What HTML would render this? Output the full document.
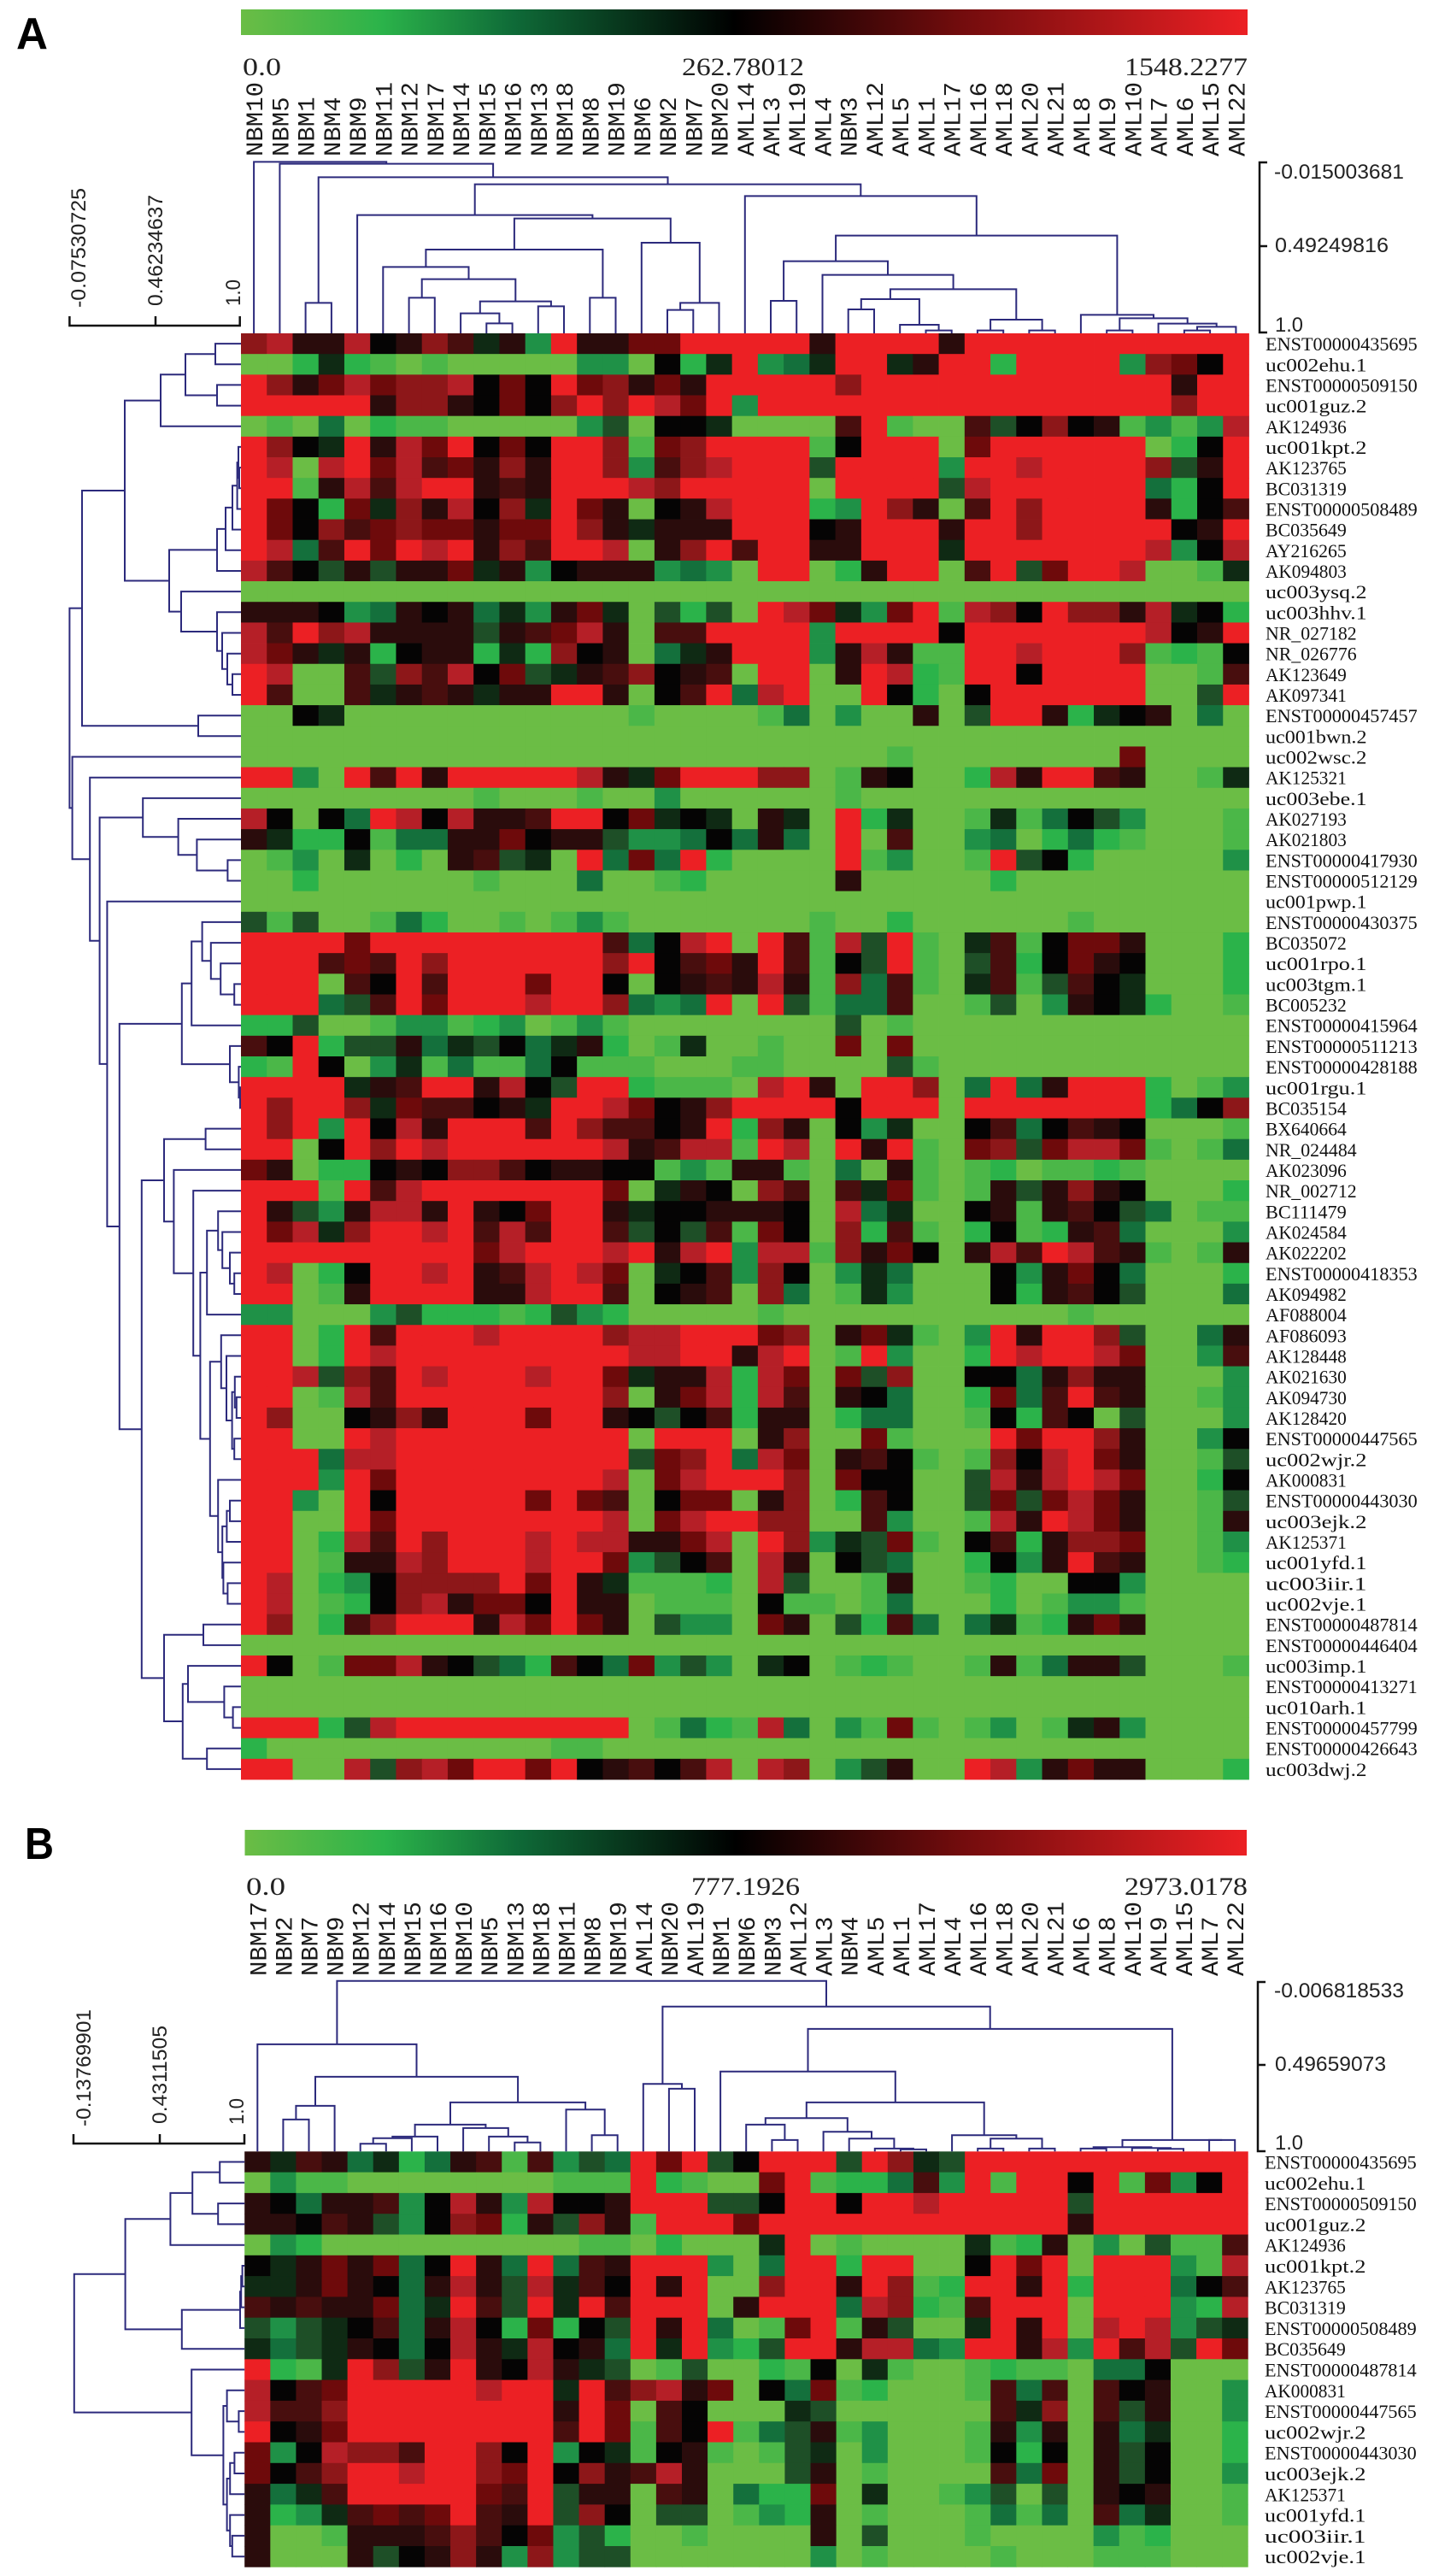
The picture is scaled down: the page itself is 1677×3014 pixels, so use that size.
<!DOCTYPE html>
<html lang="en">
<head>
<meta charset="utf-8">
<title>Hierarchical clustering heatmaps</title>
<style>
html,body{margin:0;padding:0;background:#fff;}
svg{display:block;}
.lab{font-family:"Liberation Mono",monospace;font-size:28px;fill:#1a1a1a;}
.gene{font-family:"Liberation Serif",serif;font-size:22px;fill:#111;}
.num{font-family:"Liberation Serif",serif;font-size:30px;fill:#222;}
.sc{font-family:"Liberation Sans",sans-serif;font-size:24px;fill:#222;}
.tag{font-family:"Liberation Sans",sans-serif;font-size:52px;font-weight:bold;fill:#000;}
.axis{fill:none;stroke:#111;stroke-width:2.5;}
</style>
</head>
<body>
<svg id="figure" xmlns="http://www.w3.org/2000/svg" width="1677" height="3014" viewBox="0 0 1677 3014">
<defs>
<linearGradient id="scaleGrad" x1="0" x2="1" y1="0" y2="0">
<stop offset="0" stop-color="#6bbd45"/>
<stop offset="0.14" stop-color="#2bb34a"/>
<stop offset="0.27" stop-color="#0f6b38"/>
<stop offset="0.49" stop-color="#000"/>
<stop offset="0.714" stop-color="#720c0d"/>
<stop offset="1" stop-color="#ec2024"/>
</linearGradient>
</defs>
<rect width="1677" height="3014" fill="#fff"/>

<text class="tag" x="19" y="57" textLength="37" lengthAdjust="spacingAndGlyphs">A</text>
<rect x="282" y="11" width="1178" height="30" fill="url(#scaleGrad)"/>
<text class="num" x="284" y="88" textLength="45" lengthAdjust="spacingAndGlyphs">0.0</text>
<text class="num" x="798" y="88" textLength="143" lengthAdjust="spacingAndGlyphs">262.78012</text>
<text class="num" x="1316" y="88" textLength="144" lengthAdjust="spacingAndGlyphs">1548.2277</text>
<path class="axis" d="M81.4 370V381H280.7V370M182 381V370"/>
<text class="sc" transform="translate(100 360) rotate(-90)" textLength="140" lengthAdjust="spacingAndGlyphs">-0.07530725</text>
<text class="sc" transform="translate(190 358) rotate(-90)" textLength="130" lengthAdjust="spacingAndGlyphs">0.46234637</text>
<text class="sc" transform="translate(281 358) rotate(-90)" textLength="31" lengthAdjust="spacingAndGlyphs">1.0</text>
<path class="axis" d="M1483 190H1474V389H1483M1474 288H1483"/>
<text class="sc" x="1491" y="209" textLength="152" lengthAdjust="spacingAndGlyphs">-0.015003681</text>
<text class="sc" x="1492" y="295" textLength="133" lengthAdjust="spacingAndGlyphs">0.49249816</text>
<text class="sc" x="1492" y="388" textLength="33" lengthAdjust="spacingAndGlyphs">1.0</text>

<text class="tag" x="29" y="2175" textLength="34" lengthAdjust="spacingAndGlyphs">B</text>
<rect x="286.5" y="2141" width="1172.5" height="30" fill="url(#scaleGrad)"/>
<text class="num" x="288" y="2217" textLength="46" lengthAdjust="spacingAndGlyphs">0.0</text>
<text class="num" x="809" y="2217" textLength="127" lengthAdjust="spacingAndGlyphs">777.1926</text>
<text class="num" x="1316" y="2217" textLength="144" lengthAdjust="spacingAndGlyphs">2973.0178</text>
<path class="axis" d="M86 2497V2508H286V2497M187 2508V2497"/>
<text class="sc" transform="translate(106 2488) rotate(-90)" textLength="137" lengthAdjust="spacingAndGlyphs">-0.13769901</text>
<text class="sc" transform="translate(195 2485) rotate(-90)" textLength="115" lengthAdjust="spacingAndGlyphs">0.4311505</text>
<text class="sc" transform="translate(285 2486) rotate(-90)" textLength="31" lengthAdjust="spacingAndGlyphs">1.0</text>
<path class="axis" d="M1481 2319H1472V2517H1481M1472 2416H1481"/>
<text class="sc" x="1491" y="2337" textLength="152" lengthAdjust="spacingAndGlyphs">-0.006818533</text>
<text class="sc" x="1492" y="2423" textLength="130" lengthAdjust="spacingAndGlyphs">0.49659073</text>
<text class="sc" x="1492" y="2515" textLength="33" lengthAdjust="spacingAndGlyphs">1.0</text>
</svg>

<script>
const columnsA = ["NBM10","NBM5","NBM1","NBM4","NBM9","NBM11","NBM12","NBM17","NBM14","NBM15","NBM16","NBM13","NBM18","NBM8","NBM19","NBM6","NBM2","NBM7","NBM20","AML14","AML3","AML19","AML4","NBM3","AML12","AML5","AML1","AML17","AML16","AML18","AML20","AML21","AML8","AML9","AML10","AML7","AML6","AML15","AML22"];
const genesA = ["ENST00000435695","uc002ehu.1","ENST00000509150","uc001guz.2","AK124936","uc001kpt.2","AK123765","BC031319","ENST00000508489","BC035649","AY216265","AK094803","uc003ysq.2","uc003hhv.1","NR_027182","NR_026776","AK123649","AK097341","ENST00000457457","uc001bwn.2","uc002wsc.2","AK125321","uc003ebe.1","AK027193","AK021803","ENST00000417930","ENST00000512129","uc001pwp.1","ENST00000430375","BC035072","uc001rpo.1","uc003tgm.1","BC005232","ENST00000415964","ENST00000511213","ENST00000428188","uc001rgu.1","BC035154","BX640664","NR_024484","AK023096","NR_002712","BC111479","AK024584","AK022202","ENST00000418353","AK094982","AF088004","AF086093","AK128448","AK021630","AK094730","AK128420","ENST00000447565","uc002wjr.2","AK000831","ENST00000443030","uc003ejk.2","AK125371","uc001yfd.1","uc003iir.1","uc002vje.1","ENST00000487814","ENST00000446404","uc003imp.1","ENST00000413271","uc010arh.1","ENST00000457799","ENST00000426643","uc003dwj.2"];
const levelsA = [
[11,12,8,8,12,7,8,11,9,6,8,3,13,8,8,10,10,13,13,13,13,13,8,13,13,13,13,8,13,13,13,13,13,13,13,13,13,13,13],
[0,0,2,6,2,1,0,1,0,0,0,0,0,3,3,0,7,2,6,13,3,4,6,13,13,6,8,13,13,2,13,13,13,13,3,11,10,7,13],
[13,11,8,10,12,10,11,11,12,7,10,7,13,10,11,8,10,8,13,13,13,13,13,11,13,13,13,13,13,13,13,13,13,13,13,13,8,13,13],
[13,13,13,13,13,8,11,11,8,7,10,7,11,13,11,13,12,10,13,3,13,13,13,13,13,13,13,13,13,13,13,13,13,13,13,13,11,13,13],
[0,1,0,4,0,2,1,1,0,0,0,0,0,3,5,0,7,7,6,0,0,0,0,9,13,1,0,0,9,5,7,11,7,8,1,3,1,3,12],
[13,11,7,6,13,8,12,10,13,7,10,7,13,13,11,1,10,11,13,13,13,13,1,7,13,13,13,0,10,13,13,13,13,13,13,0,2,7,13],
[13,12,0,12,13,10,12,9,10,8,11,8,13,13,11,3,9,11,12,13,13,13,5,13,13,13,13,3,13,13,12,13,13,13,13,11,5,8,13],
[13,13,1,8,12,9,12,13,13,8,9,8,13,13,13,12,11,13,13,13,13,13,0,13,13,13,13,5,12,13,13,13,13,13,13,4,2,7,13],
[13,10,7,2,10,6,11,8,12,7,11,6,13,10,8,0,7,8,12,13,13,13,2,3,13,11,8,0,9,13,11,13,13,13,13,8,2,7,9],
[13,10,7,11,9,10,11,10,10,8,10,10,13,11,8,6,8,8,8,13,13,13,7,8,13,13,13,8,13,13,11,13,13,13,13,13,7,8,13],
[13,12,4,9,13,10,13,12,13,8,11,9,13,13,12,0,8,11,13,9,13,13,8,8,13,13,13,6,13,13,13,13,13,13,13,12,3,7,12],
[12,9,7,5,8,5,8,8,10,6,8,3,7,8,8,8,3,4,3,0,13,13,0,2,8,13,13,0,9,13,5,10,13,13,12,0,0,1,6],
[0,0,0,0,0,0,0,0,0,0,0,0,0,0,0,0,0,0,0,0,0,0,0,0,0,0,0,0,0,0,0,0,0,0,0,0,0,0,0],
[8,8,8,7,3,4,8,7,8,4,6,3,8,10,6,0,5,2,5,0,13,12,10,6,3,10,13,1,12,11,7,13,11,11,8,12,6,7,2],
[12,9,13,11,12,8,8,8,8,5,8,9,10,12,8,0,9,9,13,13,13,13,3,13,13,13,13,7,13,13,13,13,13,13,13,12,7,8,13],
[12,10,8,6,8,2,7,8,8,2,6,2,11,7,8,0,4,6,8,13,13,13,3,8,12,8,1,1,13,13,12,13,13,13,11,1,2,1,7],
[13,12,0,0,9,5,11,9,12,7,10,5,6,8,9,11,7,8,9,0,13,13,0,8,13,12,2,1,13,13,7,13,13,13,13,0,0,1,9],
[13,9,0,0,9,6,8,9,8,6,8,8,13,13,8,0,7,9,13,4,12,13,0,0,13,7,2,0,7,13,13,13,13,13,13,0,0,5,13],
[0,0,7,6,0,0,0,0,0,0,0,0,0,0,0,1,0,0,0,0,1,4,0,3,0,0,8,0,5,13,13,8,2,6,7,8,0,4,0],
[0,0,0,0,0,0,0,0,0,0,0,0,0,0,0,0,0,0,0,0,0,0,0,0,0,0,0,0,0,0,0,0,0,0,0,0,0,0,0],
[0,0,0,0,0,0,0,0,0,0,0,0,0,0,0,0,0,0,0,0,0,0,0,0,0,1,0,0,0,0,0,0,0,0,10,0,0,0,0],
[13,13,3,0,13,9,13,8,13,13,13,13,13,12,8,6,10,13,13,13,11,11,0,1,8,7,0,0,2,12,8,13,13,9,8,0,0,1,6],
[0,0,0,0,0,0,0,0,0,1,0,0,0,1,0,0,3,0,0,0,0,0,0,1,0,0,0,0,0,0,0,0,0,0,0,0,0,0,0],
[12,7,0,7,4,13,12,7,12,8,8,9,13,13,7,10,6,7,6,0,8,6,0,13,2,6,0,0,1,6,1,4,7,5,3,0,0,0,1],
[8,6,2,2,7,1,4,4,8,8,10,7,8,8,5,3,3,4,7,4,8,4,0,13,0,9,0,0,3,4,0,2,4,2,1,0,0,0,1],
[0,1,3,0,6,0,2,0,8,9,5,6,0,13,4,10,4,13,2,0,0,0,0,13,1,3,0,0,1,13,5,7,2,0,0,0,0,0,3],
[0,0,2,0,0,0,0,0,0,1,0,0,0,4,0,0,1,2,0,0,0,0,0,8,0,0,0,0,0,2,0,0,0,0,0,0,0,0,0],
[0,0,0,0,0,0,0,0,0,0,0,0,0,0,0,0,0,0,0,0,0,0,0,0,0,0,0,0,0,0,0,0,0,0,0,0,0,0,0],
[5,1,5,0,0,1,4,2,0,0,1,0,1,3,1,0,0,0,0,0,0,0,1,0,0,2,0,0,0,0,0,0,1,0,0,0,0,0,0],
[13,13,13,13,10,13,13,13,13,13,13,13,13,13,9,4,7,12,13,0,13,9,1,12,5,13,1,0,6,9,1,7,10,10,8,0,0,0,2],
[13,13,13,9,10,9,13,11,13,13,13,13,13,13,11,13,7,9,10,8,13,9,1,7,5,13,1,0,5,9,2,7,10,8,7,0,0,0,2],
[13,13,13,0,9,7,13,9,13,13,13,10,13,13,7,0,7,8,9,8,12,8,1,11,4,9,1,0,6,9,1,5,9,7,6,0,0,0,2],
[13,13,13,4,5,9,13,10,13,13,13,12,13,13,11,4,3,4,13,0,13,5,1,4,4,9,0,0,1,5,0,3,8,7,6,2,0,0,1],
[2,2,5,0,0,1,3,3,1,2,3,0,1,3,1,0,0,0,0,0,0,0,0,5,0,1,0,0,0,0,0,0,0,0,0,0,0,0,0],
[9,7,13,2,5,5,8,4,6,5,7,4,6,8,2,0,1,6,0,0,1,0,0,10,0,10,0,0,0,0,0,0,0,0,0,0,0,0,0],
[2,1,13,7,0,3,6,1,4,1,1,4,7,1,1,1,0,0,0,1,1,0,0,0,0,5,1,0,0,0,0,0,0,0,0,0,0,0,0],
[13,13,13,13,6,8,9,13,13,8,12,7,5,13,13,2,1,1,1,0,12,13,8,0,13,13,11,0,4,13,4,8,13,13,13,2,0,1,3],
[13,11,13,13,11,6,10,9,9,7,8,6,13,13,12,10,7,8,11,13,13,13,13,7,13,13,13,0,13,13,13,13,13,13,13,2,4,7,11],
[13,11,13,3,13,7,12,8,13,13,13,9,13,11,9,9,7,8,13,2,11,8,0,7,3,6,0,0,7,9,4,7,9,8,7,0,0,0,1],
[13,13,0,7,13,11,13,12,13,13,13,13,13,13,12,8,9,12,12,1,13,12,0,13,8,13,1,0,10,11,5,10,12,12,10,1,0,1,4],
[10,8,0,2,2,7,8,7,11,11,9,7,8,8,7,7,1,3,1,8,8,1,0,4,0,8,1,0,1,2,0,1,1,2,1,0,0,0,0],
[13,13,13,1,13,9,12,13,13,13,13,13,13,13,10,0,6,8,7,0,11,9,0,9,6,10,1,0,1,8,5,8,11,8,7,0,0,0,2],
[13,8,5,3,8,12,12,8,13,8,7,10,13,13,8,6,7,7,8,8,8,7,0,12,4,6,0,0,7,8,1,8,9,7,5,4,0,1,1],
[13,10,12,6,11,13,13,12,13,9,12,9,13,13,9,5,7,5,9,1,10,7,0,11,2,9,1,0,2,7,1,2,8,9,4,0,0,0,3],
[13,13,13,13,13,13,13,13,13,10,12,13,13,13,12,13,8,12,13,3,12,12,1,11,8,10,7,0,8,12,9,13,12,9,8,1,0,1,8],
[13,12,0,2,7,13,13,12,13,8,9,12,13,12,10,0,6,7,9,3,11,7,0,3,6,4,0,0,0,7,3,8,10,7,4,0,0,0,2],
[13,13,0,1,8,13,13,13,13,8,8,12,13,13,9,0,7,8,9,0,11,4,0,1,6,3,0,0,0,7,2,8,9,7,5,0,0,0,4],
[3,3,0,0,0,3,5,2,2,2,1,2,5,3,2,0,0,0,0,0,1,0,0,0,0,0,0,0,0,0,0,0,1,0,0,0,0,0,0],
[13,13,0,2,13,9,13,13,13,12,13,13,13,13,11,12,12,13,13,13,10,11,0,8,10,6,1,0,3,13,8,13,13,11,5,0,0,4,8],
[13,13,0,2,13,12,13,13,13,13,13,13,13,13,13,12,12,13,13,8,12,13,0,1,13,3,0,0,2,13,12,13,13,12,10,0,0,3,9],
[13,13,12,5,11,9,13,12,13,13,13,12,13,13,10,6,8,8,12,2,12,10,0,10,5,11,0,0,7,7,4,8,11,8,8,0,0,0,3],
[13,13,0,1,12,9,13,13,13,13,13,13,13,13,11,0,8,10,12,2,12,9,0,8,7,4,0,0,2,10,4,9,13,9,8,0,0,1,3],
[13,11,0,0,7,8,11,8,13,13,13,10,13,13,8,7,5,7,9,2,8,8,0,2,4,4,0,0,1,7,2,9,7,0,5,0,0,0,3],
[13,13,0,0,13,12,13,13,13,13,13,13,13,13,13,0,13,13,13,0,8,11,0,0,10,1,0,0,0,13,10,13,13,11,8,0,0,3,7],
[13,13,13,4,12,12,13,13,13,13,13,13,13,13,13,5,10,11,13,4,12,10,0,8,9,7,1,0,1,11,7,12,13,10,8,0,0,1,5],
[13,13,13,3,13,10,13,13,13,13,13,13,13,13,12,0,10,12,13,13,13,11,0,10,7,7,0,0,5,12,8,12,13,12,10,0,0,2,7],
[13,13,3,0,13,7,13,13,13,13,13,10,13,10,9,0,7,10,10,0,8,11,0,2,9,7,0,0,5,10,5,10,12,10,8,0,0,1,5],
[13,13,0,0,13,10,13,13,13,13,13,13,13,13,12,0,10,12,13,13,11,11,0,0,9,3,0,0,1,12,8,13,12,10,8,0,0,1,8],
[13,13,0,2,12,9,13,11,13,13,13,12,13,12,12,8,8,10,12,0,13,11,3,6,5,10,1,0,7,9,2,8,11,11,10,0,0,1,3],
[13,13,0,1,8,8,12,11,13,13,13,12,13,13,10,3,5,7,9,0,12,8,0,7,5,4,0,0,2,7,3,8,13,9,8,0,0,1,2],
[13,12,0,2,3,7,11,11,11,11,13,10,13,8,6,1,1,1,2,0,12,5,0,0,1,8,0,0,1,2,0,0,7,7,3,0,0,0,0],
[13,12,0,1,2,7,11,12,8,10,10,7,13,8,8,0,1,1,1,0,7,1,1,0,1,4,0,0,0,2,0,1,3,3,1,0,0,0,0],
[13,11,0,2,9,11,13,13,13,8,12,10,13,10,8,0,5,3,3,0,10,8,0,5,2,9,4,0,4,6,1,2,8,10,8,0,0,0,0],
[0,0,0,0,0,0,0,0,0,0,0,0,0,0,0,0,0,0,0,0,0,0,0,0,0,0,0,0,0,0,0,0,0,0,0,0,0,0,0],
[13,7,0,1,10,10,12,8,7,5,4,2,9,7,4,10,3,5,3,0,6,7,0,1,2,1,0,0,1,8,1,4,8,8,5,0,0,0,1],
[0,0,0,0,0,0,0,0,0,0,0,0,0,0,0,0,0,0,0,0,0,0,0,0,0,0,0,0,0,0,0,0,0,0,0,0,0,0,0],
[0,0,0,0,0,0,0,0,0,0,0,0,0,0,0,0,0,0,0,0,0,0,0,0,0,0,0,0,0,0,0,0,0,0,0,0,0,0,0],
[13,13,13,2,5,12,13,13,13,13,13,13,13,13,13,0,1,4,2,1,12,4,0,3,1,10,1,0,1,3,0,1,6,8,3,0,0,0,0],
[2,0,0,0,0,0,0,0,0,0,0,0,1,1,0,0,0,0,0,0,0,0,0,0,0,0,0,0,0,0,0,0,0,0,0,0,0,0,0],
[13,13,0,0,12,5,11,12,10,13,13,10,13,7,8,9,7,9,12,0,12,11,0,3,5,8,0,0,13,12,3,8,10,8,8,0,0,0,2]
];
const columnTreeA = [1.003,1,[.992,2,[.913,[.178,3,4],[.872,[.692,5,[.672,[.49,[.388,6,[.317,[.208,7,8],[.187,[.117,9,[.058,10,11]],[.158,12,13]]]],[.208,14,15]],[.53,16,[.178,[.137,17,18],19]]]],[.803,20,[.572,[.422,[.19,21,22],[.342,23,[.258,[.2,[.14,24,25],[.05,26,[.017,27,28]]],[.08,[.017,29,30],[.017,31,32]]]]],[.108,33,[.088,[.017,34,35],[.057,36,[.038,[.017,37,38],39]]]]]]]]]];
const rowTreeA = [1.003,[.93,[.68,[.47,[.325,[.15,1,2],[.14,3,4]],5],[.42,[.14,[.09,[.05,[.022,[.015,6,[.01,7,8]],9],10],11],12],[.35,13,[.14,14,[.11,15,[.08,16,[.05,17,18]]]]]]],[.25,19,20]],[.987,21,[.884,22,[.827,[.574,23,[.367,24,[.258,25,[.078,26,27]]]],[.783,28,[.711,[.346,[.289,[.227,29,[.176,30,[.119,31,[.039,32,33]]]],34],[.065,35,[.013,36,[.005,37,38]]]],[.581,[.45,[.207,39,40],[.393,41,[.279,42,[.238,[.199,[.134,43,[.109,44,[.065,45,[.039,46,47]]]],48],[.181,[.116,49,[.085,50,[.052,[.036,51,[.026,52,53]],[.039,54,55]]]],[.134,56,[.109,[.083,[.065,57,58],59],[.103,60,[.078,61,62]]]]]]]]],[.45,[.22,63,64],[.341,[.31,65,[.098,66,[.047,67,68]]],[.199,69,70]]]]]]]]]];

const columnsB = ["NBM17","NBM2","NBM7","NBM9","NBM12","NBM14","NBM15","NBM16","NBM10","NBM5","NBM13","NBM18","NBM11","NBM8","NBM19","AML14","NBM20","AML19","NBM1","NBM6","NBM3","AML12","AML3","NBM4","AML5","AML1","AML17","AML4","AML16","AML18","AML20","AML21","AML6","AML8","AML10","AML9","AML15","AML7","AML22"];
const genesB = ["ENST00000435695","uc002ehu.1","ENST00000509150","uc001guz.2","AK124936","uc001kpt.2","AK123765","BC031319","ENST00000508489","BC035649","ENST00000487814","AK000831","ENST00000447565","uc002wjr.2","ENST00000443030","uc003ejk.2","AK125371","uc001yfd.1","uc003iir.1","uc002vje.1"];
const levelsB = [
[8,6,9,8,4,6,2,4,8,9,1,9,3,5,4,13,10,13,5,7,13,13,13,5,13,11,6,5,13,13,13,13,13,13,13,13,13,13,13],
[0,3,1,1,0,0,0,0,0,0,0,0,1,1,1,13,2,1,0,0,10,13,1,2,2,4,9,3,13,1,13,13,7,13,1,10,3,7,13],
[8,7,4,8,8,9,3,7,12,8,3,12,7,7,8,13,13,13,5,5,7,13,13,7,13,13,12,13,13,13,13,13,5,13,13,13,13,13,13],
[8,8,7,9,8,5,3,7,11,10,2,8,5,11,8,1,13,13,13,10,13,13,13,13,13,13,13,13,13,13,13,13,8,13,13,13,13,13,13],
[0,3,2,0,0,0,0,0,0,0,0,0,0,1,1,0,2,0,0,0,6,13,0,1,0,0,0,0,6,1,2,8,0,3,0,5,1,1,9],
[7,6,8,10,8,10,4,7,13,8,4,13,4,9,8,13,13,13,3,0,4,13,13,2,13,13,0,0,7,13,10,13,0,13,13,13,3,1,12],
[6,6,8,10,8,7,4,8,12,8,5,12,6,9,7,13,8,13,0,0,11,13,13,8,13,11,1,2,13,13,8,13,2,13,13,13,4,7,9],
[9,8,9,8,8,10,4,6,13,9,5,13,6,13,9,13,13,13,0,8,13,13,13,4,12,11,2,1,9,13,13,13,0,13,13,13,3,2,12],
[5,3,5,6,7,9,4,8,12,7,2,10,2,7,5,13,8,13,4,0,1,10,13,1,8,5,0,0,6,13,8,13,0,12,13,12,3,5,6],
[6,4,5,6,8,7,4,7,12,8,6,12,7,8,4,13,6,13,3,2,5,13,13,8,12,12,4,3,13,13,8,12,3,13,9,12,5,13,10],
[13,2,1,6,13,11,5,8,13,8,7,12,8,6,5,0,1,5,0,0,2,1,7,0,6,1,0,0,1,2,1,1,0,4,4,7,0,0,0],
[12,7,9,10,13,13,13,13,13,12,13,13,6,13,9,11,12,8,10,0,7,4,10,1,2,0,0,0,1,9,4,9,0,9,7,8,0,0,3],
[12,9,9,11,13,13,13,13,13,13,13,13,8,13,10,0,9,7,0,0,0,6,5,0,0,0,0,0,0,9,6,11,0,9,5,8,0,0,3],
[13,7,8,10,13,13,13,13,13,13,13,13,9,13,10,1,9,7,13,1,4,5,8,1,3,0,0,0,1,8,3,8,0,8,4,6,0,0,2],
[10,3,7,12,11,11,9,13,13,11,7,13,3,7,6,1,7,8,1,0,1,5,6,0,3,0,0,0,1,7,2,7,0,8,5,7,0,0,2],
[10,7,9,11,13,13,12,13,13,11,10,13,7,11,8,9,12,8,0,0,0,5,8,0,1,0,0,0,0,9,4,10,0,8,5,7,0,0,3],
[8,4,6,9,13,13,13,13,13,10,9,13,5,8,8,0,9,8,0,4,2,2,10,0,6,0,0,1,3,5,0,5,0,8,7,8,0,0,1],
[8,2,3,6,9,10,9,10,13,9,8,13,5,11,7,0,5,5,0,1,3,2,8,0,1,0,0,0,1,4,1,4,0,9,4,6,0,0,1],
[8,0,0,1,8,8,8,9,11,9,7,10,3,5,2,0,0,1,0,0,0,0,8,0,5,0,0,0,1,0,0,0,0,3,1,2,0,0,0],
[8,0,0,0,8,5,7,8,11,8,3,11,3,5,5,0,0,0,0,0,0,0,3,0,1,0,0,0,0,1,0,0,0,1,1,1,0,0,0]
];
const columnTreeB = [.998,[.627,1,[.437,[.267,[.187,2,3],4],[.287,[.157,[.087,[.078,[.045,5,6],7],8],[.137,9,[.087,10,[.053,11,12]]]],[.245,13,[.095,14,15]]]]],[.848,[.395,16,[.367,17,18]],[.717,[.468,19,[.287,[.195,[.157,20,[.067,21,22]],[.115,23,[.075,24,[.017,25,[.012,26,27]]]]],[.095,28,[.075,[.017,29,30],[.017,31,32]]]]],[.067,[.025,[.017,33,34],[.02,35,[.015,36,37]]],[.067,38,39]]]]];
const rowTreeB = [.997,[.698,[.434,[.305,[.145,1,2],[.155,3,4]],5],[.367,[.026,[.02,[.013,6,7],8],9],10]],[.31,11,[.124,[.103,12,[.034,13,14]],[.103,[.085,[.059,15,16],17],[.085,18,[.072,19,20]]]]]];

const NS = 'http://www.w3.org/2000/svg';
const figure = document.getElementById('figure');
const colorStops = ['#6bbd45','#4bb748','#2bb34a','#1f9147','#14703c','#1e4f27','#0f2a14','#050404','#2a0c0c','#480e0e','#6e0a0b','#8d1719','#b51f27','#ec2024'];

function levelColor(v) {
  const clamped = Math.max(0, Math.min(colorStops.length - 1, v));
  const lo = Math.floor(clamped);
  const hi = Math.ceil(clamped);
  if (lo === hi) return colorStops[lo];
  const mix = clamped - lo;
  const a = parseInt(colorStops[lo].slice(1), 16);
  const b = parseInt(colorStops[hi].slice(1), 16);
  const ch = function (s) { return Math.round(((a >> s) & 255) * (1 - mix) + ((b >> s) & 255) * mix); };
  return 'rgb(' + ch(16) + ',' + ch(8) + ',' + ch(0) + ')';
}

function drawPanel(cfg) {
  const g = document.createElementNS(NS, 'g');
  
  
  figure.appendChild(g);
  const cw = (cfg.right - cfg.left) / cfg.columns.length;
  const rh = (cfg.bottom - cfg.top) / cfg.genes.length;
  const xBand = function (i) { return cfg.left + cw * i; };
  const yBand = function (i) { return cfg.top + rh * i; };
  const xDist = function (d) { return cfg.left - d * 200; };
  const yDist = function (d) { return cfg.top - d * 200; };

  cfg.levels.forEach(function (row, r) {
    row.forEach(function (v, c) {
      const cell = document.createElementNS(NS, 'rect');
      
      
      cell.setAttribute('x', xBand(c).toFixed(2));
      cell.setAttribute('y', yBand(r).toFixed(2));
      cell.setAttribute('width', (cw + 0.4).toFixed(2));
      cell.setAttribute('height', (rh + 0.4).toFixed(2));
      cell.setAttribute('fill', levelColor(v));
      g.appendChild(cell);
    });
  });

  cfg.columns.forEach(function (name, i) {
    const t = document.createElementNS(NS, 'text');
    
    
    t.setAttribute('class', 'lab');
    const x = xBand(i) + cw / 2 + 10;
    t.setAttribute('transform', 'translate(' + x.toFixed(1) + ' ' + cfg.labelBottom + ') rotate(-90)');
    t.setAttribute('textLength', String(name.length * 17.4));
    t.setAttribute('lengthAdjust', 'spacingAndGlyphs');
    t.textContent = name;
    g.appendChild(t);
  });

  cfg.genes.forEach(function (name, i) {
    const t = document.createElementNS(NS, 'text');
    
    
    t.setAttribute('class', 'gene');
    t.setAttribute('x', cfg.geneX);
    t.setAttribute('y', (yBand(i) + rh / 2 + 8).toFixed(1));
    t.setAttribute('textLength', String(name.length * 11.85));
    t.setAttribute('lengthAdjust', 'spacingAndGlyphs');
    t.textContent = name;
    g.appendChild(t);
  });

  function addLink(d) {
    const p = document.createElementNS(NS, 'path');
    
    
    p.setAttribute('d', d);
    p.setAttribute('fill', 'none');
    p.setAttribute('stroke', '#2c2a7c');
    p.setAttribute('stroke-width', '2');
    g.appendChild(p);
  }

  function walkColumns(node) {
    if (typeof node === 'number') return { pos: xBand(node - 1) + cw / 2, dist: 0 };
    const a = walkColumns(node[1]);
    const b = walkColumns(node[2]);
    const top = yDist(node[0]);
    addLink('M' + a.pos.toFixed(1) + ' ' + yDist(a.dist).toFixed(1) + 'V' + top.toFixed(1) + 'H' + b.pos.toFixed(1) + 'V' + yDist(b.dist).toFixed(1));
    return { pos: (a.pos + b.pos) / 2, dist: node[0] };
  }

  function walkRows(node) {
    if (typeof node === 'number') return { pos: yBand(node - 1) + rh / 2, dist: 0 };
    const a = walkRows(node[1]);
    const b = walkRows(node[2]);
    const left = xDist(node[0]);
    addLink('M' + xDist(a.dist).toFixed(1) + ' ' + a.pos.toFixed(1) + 'H' + left.toFixed(1) + 'V' + b.pos.toFixed(1) + 'H' + xDist(b.dist).toFixed(1));
    return { pos: (a.pos + b.pos) / 2, dist: node[0] };
  }

  walkColumns(cfg.columnTree);
  walkRows(cfg.rowTree);
}

drawPanel({ name: 'panel-a', left: 282, right: 1461.5, top: 390, bottom: 2082, labelBottom: 183, geneX: 1481, columns: columnsA, genes: genesA, levels: levelsA, columnTree: columnTreeA, rowTree: rowTreeA });
drawPanel({ name: 'panel-b', left: 286.2, right: 1460.3, top: 2517.3, bottom: 3003.3, labelBottom: 2312, geneX: 1480, columns: columnsB, genes: genesB, levels: levelsB, columnTree: columnTreeB, rowTree: rowTreeB });
</script>
</body>
</html>
